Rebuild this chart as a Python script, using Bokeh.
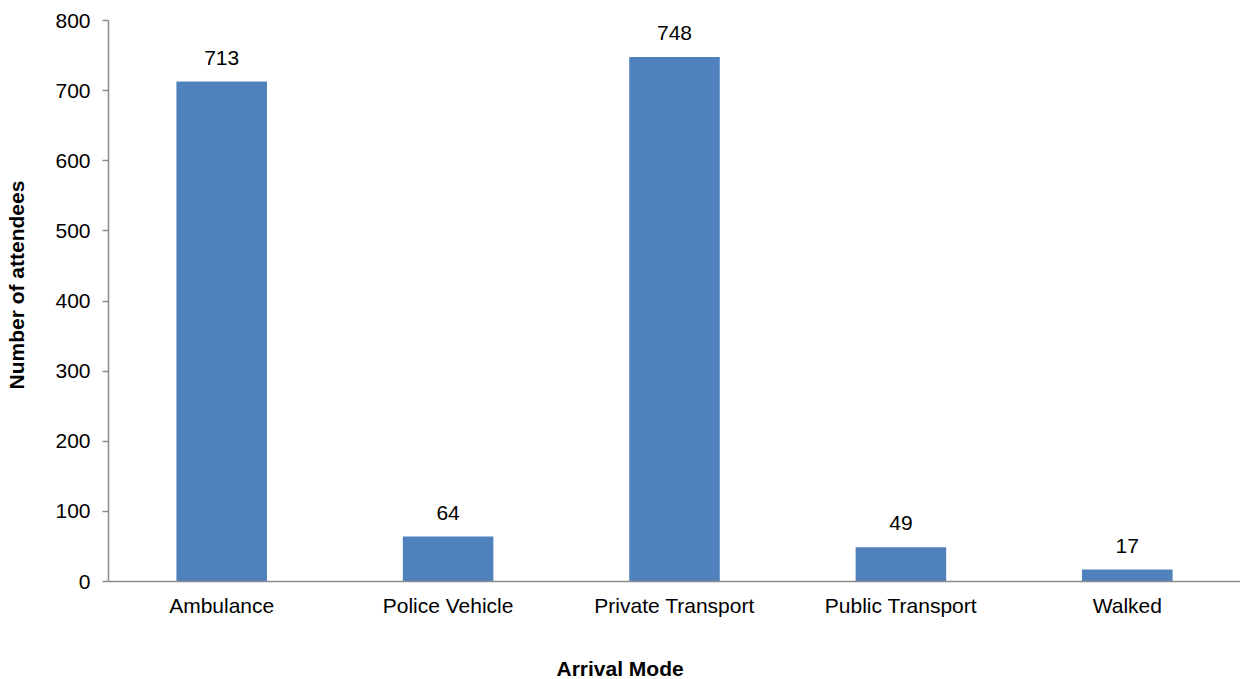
from bokeh.plotting import figure
from bokeh.models import FactorRange, Range1d, ColumnDataSource, LabelSet, Title, FixedTicker
from bokeh.core.properties import value
from bokeh.embed import file_html
from bokeh.resources import INLINE

categories = ["Ambulance", "Police Vehicle", "Private Transport", "Public Transport", "Walked"]
counts = [713, 64, 748, 49, 17]
y_ticks = [0, 100, 200, 300, 400, 500, 600, 700, 800]
x_title = "Arrival Mode"
y_title = "Number of attendees"

FONT = "Liberation Sans"
FS = "21px"
BAR = "#4F81BD"
AXIS = "#8C8C8C"

src = ColumnDataSource(dict(cat=categories, val=counts, lab=[str(v) for v in counts]))

p = figure(x_range=FactorRange(*categories, range_padding=0), y_range=Range1d(0, 800),
           width=1240, height=679, output_backend="svg", toolbar_location=None,
           min_border_left=108, min_border_right=0, min_border_top=20, min_border_bottom=98)
p.vbar(x="cat", top="val", width=0.4, source=src, fill_color=BAR, line_color=None)

p.add_layout(LabelSet(x="cat", y="val", text="lab", source=src, text_align="center",
                      text_baseline="alphabetic", y_offset=17, text_font=value(FONT),
                      text_font_size=FS, text_color="#000000"))

p.grid.visible = False
p.outline_line_color = None

for ax in (p.xaxis, p.yaxis):
    ax.axis_line_color = AXIS
    ax.axis_line_width = 1.5
    ax.major_label_text_font = FONT
    ax.major_label_text_font_size = FS
    ax.major_label_text_color = "#000000"
    ax.minor_tick_line_color = None
    # invisible spacer label, used only to push the titles outward
    ax.axis_label = " "
    ax.axis_label_text_font_size = "1px"

p.yaxis.ticker = FixedTicker(ticks=y_ticks)
p.yaxis.major_tick_line_color = AXIS
p.yaxis.major_tick_line_width = 1.5
p.yaxis.major_tick_in = 0
p.yaxis.major_tick_out = 6
p.yaxis.major_label_standoff = 12
p.yaxis.axis_label_standoff = 21
p.xaxis.major_tick_line_color = None
p.xaxis.major_tick_out = 0
p.xaxis.major_tick_in = 0
p.xaxis.major_label_standoff = 12
p.xaxis.axis_label_standoff = 31

p.add_layout(Title(text=x_title, align="left", offset=448, standoff=0, text_font=FONT,
                   text_font_size=FS, text_font_style="bold", text_color="#000000"), "below")
p.add_layout(Title(text=y_title, align="left", offset=192, standoff=0, text_font=FONT,
                   text_font_size=FS, text_font_style="bold", text_color="#000000"), "left")

open("out.html", "w").write(file_html(p, INLINE))
